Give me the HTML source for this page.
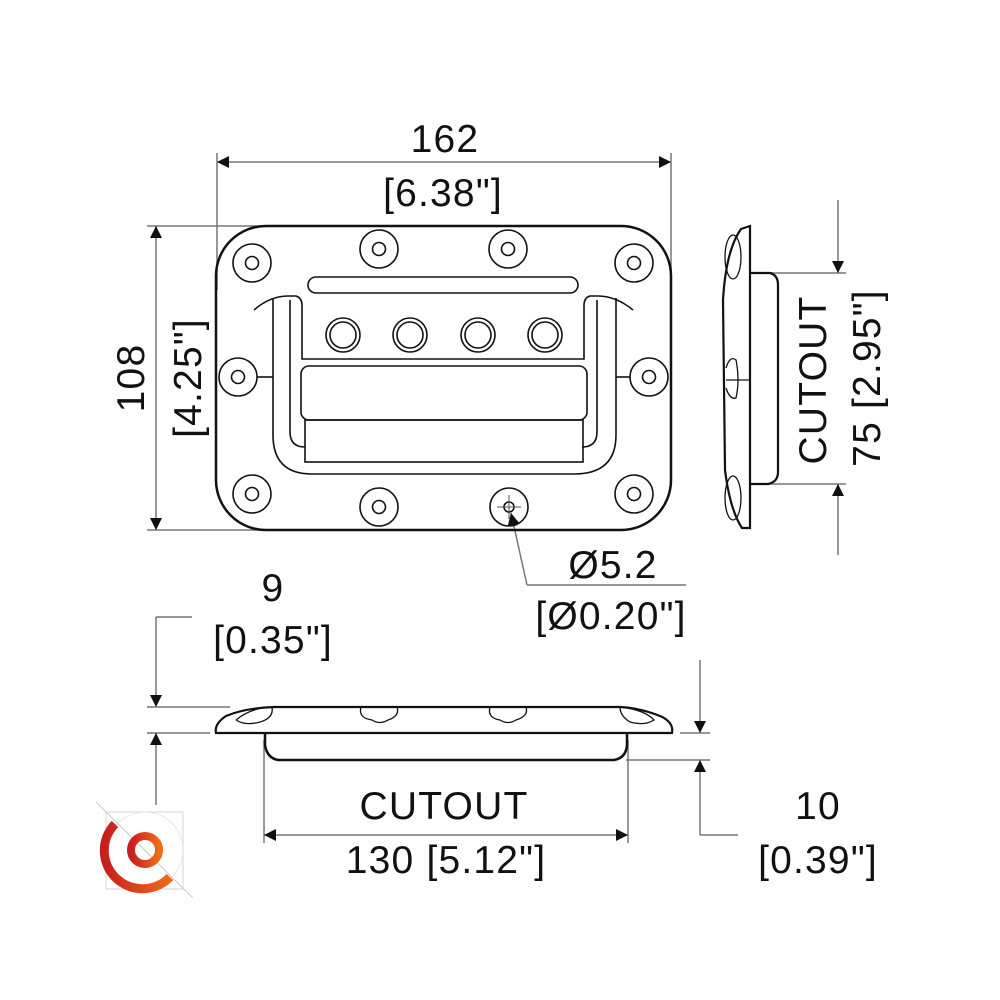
<!DOCTYPE html>
<html><head><meta charset="utf-8"><style>
html,body{margin:0;padding:0;background:#fff;}
svg{display:block;}
text{font-family:"Liberation Sans",sans-serif;font-size:39px;letter-spacing:1.2px;fill:#111;}
</style></head><body>
<svg width="1000" height="1000" viewBox="0 0 1000 1000" xmlns="http://www.w3.org/2000/svg">
<defs>
<marker id="a" viewBox="0 0 10 10" refX="10" refY="5" markerWidth="30" markerHeight="12" markerUnits="userSpaceOnUse" orient="auto-start-reverse">
<path d="M0,0 L10,5 L0,10 z" fill="#111"/></marker>
<linearGradient id="g" x1="0" y1="0" x2="1" y2="0"><stop offset="0" stop-color="#c81e1e"/><stop offset="1" stop-color="#ef6a1a"/></linearGradient>
</defs>
<g stroke="#777" stroke-width="1.5" fill="none">
<line x1="217" y1="153" x2="217" y2="290"/>
<line x1="671" y1="153" x2="671" y2="290"/>
<line x1="217" y1="162" x2="671" y2="162" marker-start="url(#a)" marker-end="url(#a)"/>
<line x1="147" y1="226" x2="300" y2="226"/>
<line x1="147" y1="530" x2="300" y2="530"/>
<line x1="156" y1="226" x2="156" y2="530" marker-start="url(#a)" marker-end="url(#a)"/>
<line x1="750" y1="273" x2="846" y2="273"/>
<line x1="750" y1="484" x2="846" y2="484"/>
<line x1="838" y1="200" x2="838" y2="273" marker-end="url(#a)"/>
<line x1="838" y1="555" x2="838" y2="484" marker-end="url(#a)"/>
<line x1="156" y1="617" x2="192" y2="617"/>
<line x1="156" y1="617" x2="156" y2="707" marker-end="url(#a)"/>
<line x1="147" y1="707" x2="230" y2="707"/>
<line x1="147" y1="733" x2="210" y2="733"/>
<line x1="156" y1="805" x2="156" y2="733" marker-end="url(#a)"/>
<line x1="700" y1="660" x2="700" y2="733" marker-end="url(#a)"/>
<line x1="680" y1="733" x2="710" y2="733"/>
<line x1="626" y1="760" x2="710" y2="760"/>
<line x1="700" y1="835" x2="700" y2="760" marker-end="url(#a)"/>
<line x1="700" y1="835" x2="738" y2="835"/>
<line x1="264" y1="740" x2="264" y2="843"/>
<line x1="628" y1="740" x2="628" y2="843"/>
<line x1="264" y1="835" x2="628" y2="835" marker-start="url(#a)" marker-end="url(#a)"/>
<polyline points="527,585 686,585"/>
<line x1="527" y1="585" x2="511" y2="513" marker-end="url(#a)"/>
</g>
<g stroke="#111" fill="none" stroke-width="2">
<rect x="216" y="226" width="455" height="304" rx="50" stroke-width="2.5"/>
<g stroke-width="1.6">
<circle cx="252" cy="263" r="19"/><circle cx="252" cy="263" r="6.5"/>
<circle cx="634" cy="263" r="19"/><circle cx="634" cy="263" r="6.5"/>
<circle cx="252" cy="494" r="19"/><circle cx="252" cy="494" r="6.5"/>
<circle cx="634" cy="494" r="19"/><circle cx="634" cy="494" r="6.5"/>
<circle cx="379" cy="249" r="19"/><circle cx="379" cy="249" r="6.5"/>
<circle cx="508" cy="249" r="19"/><circle cx="508" cy="249" r="6.5"/>
<circle cx="379" cy="507" r="19"/><circle cx="379" cy="507" r="6.5"/>
<circle cx="509" cy="507" r="19"/><circle cx="509" cy="507" r="5"/>
<circle cx="238" cy="377" r="19"/><circle cx="238" cy="377" r="6.5"/>
<circle cx="649" cy="377" r="19"/><circle cx="649" cy="377" r="6.5"/>
<rect x="308" y="277" width="270" height="16" rx="8"/>
<circle cx="343" cy="335" r="17"/><circle cx="343" cy="335" r="13"/>
<circle cx="410" cy="335" r="17"/><circle cx="410" cy="335" r="13"/>
<circle cx="478" cy="335" r="17"/><circle cx="478" cy="335" r="13"/>
<circle cx="545" cy="335" r="17"/><circle cx="545" cy="335" r="13"/>
<path d="M254,310 Q270,296 288,296 L296,296 Q302,298 302,305 L302,359 L584,359 L584,305 Q584,298 590,296 L598,296 Q616,296 633,310"/>
<path d="M273,298 L273,435 Q273,474 312,474 L574,474 Q616,474 616,435 L616,298"/>
<path d="M290,300 L290,432 Q290,447 305,447"/>
<path d="M597,300 L597,432 Q597,447 582,447"/>
<line x1="257" y1="377" x2="273" y2="377"/><line x1="616" y1="377" x2="630" y2="377"/>
<rect x="301" y="366" width="286" height="54" rx="8"/>
<rect x="305" y="420" width="278" height="42"/>
<line x1="509" y1="495" x2="509" y2="519" stroke="#555" stroke-width="1"/>
<line x1="497" y1="507" x2="521" y2="507" stroke="#555" stroke-width="1"/>
</g>
</g>
<g stroke="#111" fill="none" stroke-width="2.2">
<path d="M750,226 L750,528 L742,528 Q730,510 725,470 L723,300 Q726,250 741,229 Z"/>
<path d="M750,273 L770,273 Q778,275 778,285 L778,472 Q778,482 768,484 L750,484"/>
<g stroke-width="1.3">
<ellipse cx="733" cy="257" rx="8" ry="22"/>
<ellipse cx="733" cy="498" rx="8" ry="22"/>
<path d="M726,368 Q730,355 736,360 Q740,380 736,398 Q730,400 726,388"/>
<line x1="726" y1="380" x2="750" y2="380"/>
</g>
</g>
<g stroke="#111" fill="none" stroke-width="2.2">
<path d="M216,733 L672,733 Q674,722 660,716 Q640,708 620,707 L274,707 Q245,708 226,716 Q214,724 216,733 Z"/>
<path d="M265,733 L265,745 Q267,758 278,760 L614,760 Q626,758 627,745 L627,733" stroke-width="2.5"/>
<g stroke-width="1.3">
<path d="M236,720 Q250,708 272,707 Q274,718 260,722 Q245,726 236,720"/>
<path d="M620,707 Q645,710 654,720 Q645,726 630,722 Q620,716 620,707"/>
<path d="M361,707 Q358,718 372,720 Q380,725 388,720 Q400,716 397,707"/>
<path d="M490,707 Q487,718 500,720 Q508,725 516,720 Q529,716 526,707"/>
</g>
</g>
<text x="445" y="152" text-anchor="middle">162</text>
<text x="443" y="206" text-anchor="middle">[6.38"]</text>
<text transform="translate(144,378) rotate(-90)" text-anchor="middle">108</text>
<text transform="translate(201,378) rotate(-90)" text-anchor="middle">[4.25"]</text>
<text transform="translate(826,380) rotate(-90)" text-anchor="middle">CUTOUT</text>
<text transform="translate(880,378) rotate(-90)" text-anchor="middle">75 [2.95"]</text>
<text x="613" y="578" text-anchor="middle">Ø5.2</text>
<text x="611" y="629" text-anchor="middle">[Ø0.20"]</text>
<text x="273" y="601" text-anchor="middle">9</text>
<text x="273" y="653" text-anchor="middle">[0.35"]</text>
<text x="444" y="819" text-anchor="middle">CUTOUT</text>
<text x="446" y="873" text-anchor="middle">130 [5.12"]</text>
<text x="818" y="819" text-anchor="middle">10</text>
<text x="818" y="873" text-anchor="middle">[0.39"]</text>
<g fill="none">
<rect x="106" y="812" width="77" height="77" stroke="#ccc" stroke-width="0.8"/>
<line x1="96" y1="802" x2="193" y2="898" stroke="#bbb" stroke-width="0.8"/>
<circle cx="145" cy="850" r="38" stroke="#ddd" stroke-width="0.8"/>
<path d="M115,824 A34,34 0 1 0 170,877" stroke="url(#g)" stroke-width="9"/>
<circle cx="145" cy="850" r="14" stroke="url(#g)" stroke-width="8"/>
</g>
</svg>
</body></html>
